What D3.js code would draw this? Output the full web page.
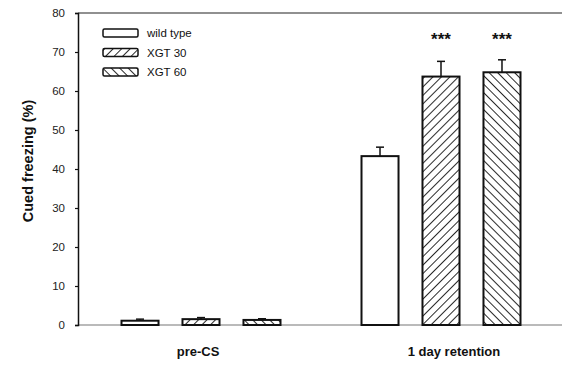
<!DOCTYPE html>
<html><head><meta charset="utf-8">
<script src="https://cdn.jsdelivr.net/npm/d3@7"></script>
<style>
html,body{margin:0;padding:0;background:#fff;}
svg{display:block;font-family:"Liberation Sans",Arial,sans-serif;}
</style></head>
<body>
<svg id="chart" width="562" height="365"></svg>
<script>
// ---- data ----
const categories = ["pre-CS", "1 day retention"];
const seriesNames = ["wild type", "XGT 30", "XGT 60"];
const wildType = [1.1, 43.3];
const xgt30 = [1.5, 63.7];
const xgt60 = [1.3, 64.8];
const wildTypeErr = [0.4, 2.3];
const xgt30Err = [0.4, 3.9];
const xgt60Err = [0.3, 3.2];
const significance = ["", "***"];
const yTicks = [0, 10, 20, 30, 40, 50, 60, 70, 80];

const values = [wildType, xgt30, xgt60];
const errs = [wildTypeErr, xgt30Err, xgt60Err];
const fills = ["#fff", "url(#hatchFwd)", "url(#hatchBack)"];

const svg = d3.select("#chart");
const defs = svg.append("defs");
function hatch(id, fwd) {
  const p = defs.append("pattern").attr("id", id).attr("patternUnits", "userSpaceOnUse")
    .attr("width", 6).attr("height", 6)
    .attr("patternTransform", "rotate(" + (fwd ? 45 : -45) + ")");
  p.append("rect").attr("width", 6).attr("height", 6).attr("fill", "#fff");
  p.append("line").attr("x1", 0).attr("y1", 0).attr("x2", 0).attr("y2", 6)
    .attr("stroke", "#111").attr("stroke-width", 1.8);
}
hatch("hatchFwd", true);
hatch("hatchBack", false);

const x0 = d3.scaleBand().domain(categories).range([81, 561]).padding(0);
const x1 = d3.scaleBand().domain(seriesNames).range([-79.5, 79.5]).paddingInner(0.393);
const y = d3.scaleLinear().domain([0, 80]).range([325, 13]);

// frame lines
svg.append("line").attr("x1", 78).attr("x2", 562).attr("y1", y(80)).attr("y2", y(80))
  .attr("stroke", "#222").attr("stroke-width", 1.2);
svg.append("line").attr("x1", 78).attr("x2", 562).attr("y1", y(0)).attr("y2", y(0))
  .attr("stroke", "#777").attr("stroke-width", 1.2);

// y axis
const yAxis = d3.axisLeft(y).tickValues(yTicks).tickSize(3).tickPadding(10).tickFormat(d3.format("d"));
const ga = svg.append("g").attr("transform", "translate(78,0)").call(yAxis);
ga.select(".domain").attr("stroke", "#111").attr("stroke-width", 1.5);
ga.selectAll(".tick line").attr("stroke", "#111").attr("stroke-width", 1.2);
ga.selectAll(".tick text").attr("font-size", 11.5).attr("fill", "#222")
  .attr("font-family", "'Liberation Sans',Arial,sans-serif");

// y label
svg.append("text").attr("transform", "translate(33,161) rotate(-90)")
  .attr("text-anchor", "middle").attr("font-size", 14.5).attr("font-weight", "bold")
  .attr("fill", "#111").text("Cued freezing (%)");

// bars
categories.forEach((c, ci) => {
  const cx = x0(c) + x0.bandwidth() / 2;
  seriesNames.forEach((s, si) => {
    const v = values[si][ci];
    const bx = cx + x1(s);
    const bw = x1.bandwidth();
    svg.append("rect").attr("x", bx).attr("y", y(v)).attr("width", bw).attr("height", y(0) - y(v))
      .attr("fill", fills[si]).attr("stroke", "#111").attr("stroke-width", 2);
    const mid = bx + bw / 2;
    const top = y(v + errs[si][ci]);
    svg.append("line").attr("x1", mid).attr("x2", mid).attr("y1", y(v)).attr("y2", top)
      .attr("stroke", "#111").attr("stroke-width", 1.5);
    svg.append("line").attr("x1", mid - 4).attr("x2", mid + 4).attr("y1", top).attr("y2", top)
      .attr("stroke", "#111").attr("stroke-width", 1.5);
    if (si > 0 && significance[ci]) {
      svg.append("text").attr("x", mid).attr("y", 45).attr("text-anchor", "middle")
        .attr("font-size", 17).attr("font-weight", "bold").attr("fill", "#111").text(significance[ci]);
    }
  });
  svg.append("text").attr("x", cx + (ci === 1 ? 13 : -3)).attr("y", 356).attr("text-anchor", "middle")
    .attr("font-size", 13).attr("font-weight", "bold").attr("fill", "#111").text(c);
});

// legend
seriesNames.forEach((s, i) => {
  const ly = 29 + i * 19.5;
  svg.append("rect").attr("x", 103).attr("y", ly).attr("width", 35).attr("height", 8)
    .attr("rx", 1.5).attr("fill", fills[i]).attr("stroke", "#111").attr("stroke-width", 1.5);
  svg.append("text").attr("x", 147).attr("y", ly + 8).attr("font-size", 11.5).attr("fill", "#111").text(s);
});
</script>
</body></html>
